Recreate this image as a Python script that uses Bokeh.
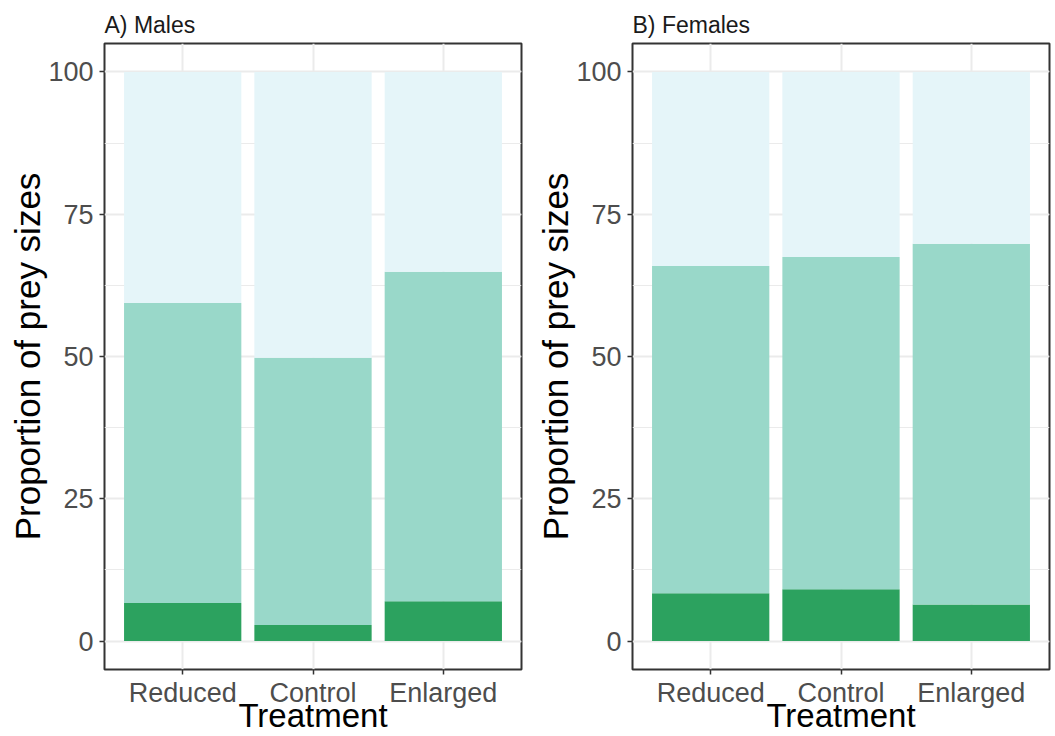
from bokeh.plotting import figure
from bokeh.models import FactorRange, Range1d, SingleIntervalTicker
from bokeh.layouts import row
from bokeh.embed import file_html
from bokeh.resources import INLINE

treatments = ["Reduced", "Control", "Enlarged"]
prey_sizes = ["Small", "Medium", "Large"]
male_small = [6.7, 2.8, 7.0]
male_medium = [52.7, 47.0, 57.9]
male_large = [40.6, 50.2, 35.1]
female_small = [8.4, 9.1, 6.4]
female_medium = [57.5, 58.4, 63.4]
female_large = [34.1, 32.5, 30.2]
colors = ["#2ca25f", "#99d8c9", "#e5f5f9"]
y_label = "Proportion of prey sizes"
x_label = "Treatment"

FONT = "Liberation Sans"
FRAME_W = 417


def panel(title, small, medium, large, mbl, mbr):
    p = figure(
        x_range=FactorRange(*treatments, range_padding=0.2 / 3),
        y_range=Range1d(-5, 105),
        width=mbl + FRAME_W + mbr, height=736,
        output_backend="svg", toolbar_location=None,
        title=title,
        min_border_left=mbl, min_border_right=mbr,
        min_border_top=43, min_border_bottom=66,
    )
    data = dict(treatment=treatments, Small=small, Medium=medium, Large=large)
    p.vbar_stack(prey_sizes, x="treatment", width=0.9, fill_color=colors,
                 line_color=None, source=data)

    p.yaxis.ticker = SingleIntervalTicker(interval=25, num_minor_ticks=2)
    p.yaxis.axis_label = y_label
    p.xaxis.axis_label = x_label

    p.axis.axis_line_color = None
    p.axis.major_tick_line_color = "#333333"
    p.axis.major_tick_line_width = 1.5
    p.axis.major_tick_out = 5
    p.axis.major_tick_in = 0
    p.axis.minor_tick_line_color = None
    p.axis.major_label_text_font = FONT
    p.axis.major_label_text_font_size = "27px"
    p.axis.major_label_text_color = "#4d4d4d"
    p.axis.major_label_text_line_height = 1.0
    p.xaxis.major_label_standoff = 3
    p.yaxis.major_label_standoff = 6
    p.axis.axis_label_text_font = FONT
    p.axis.axis_label_text_font_style = "normal"
    p.axis.axis_label_text_color = "#000000"
    p.axis.axis_label_text_line_height = 1.0
    p.yaxis.axis_label_text_font_size = "35px"
    p.xaxis.axis_label_text_font_size = "33px"
    p.yaxis.axis_label_standoff = -2
    p.xaxis.axis_label_standoff = -14

    p.xgrid.grid_line_color = "#ebebeb"
    p.xgrid.grid_line_width = 2
    p.ygrid.grid_line_color = "#ebebeb"
    p.ygrid.grid_line_width = 2
    p.ygrid.minor_grid_line_color = "#ebebeb"
    p.ygrid.minor_grid_line_width = 1

    p.outline_line_color = "#333333"
    p.outline_line_width = 2
    p.background_fill_color = "white"
    p.border_fill_color = "white"

    p.title.text_font = FONT
    p.title.text_font_size = "23px"
    p.title.text_font_style = "normal"
    p.title.text_color = "#1a1a1a"
    p.title.standoff = 12
    p.title.offset = 0
    return p


p1 = panel("A) Males", male_small, male_medium, male_large, 104, 6)
p2 = panel("B) Females", female_small, female_medium, female_large, 105, 6)

layout = row(p1, p2)
open("out.html", "w").write(file_html(layout, INLINE))
